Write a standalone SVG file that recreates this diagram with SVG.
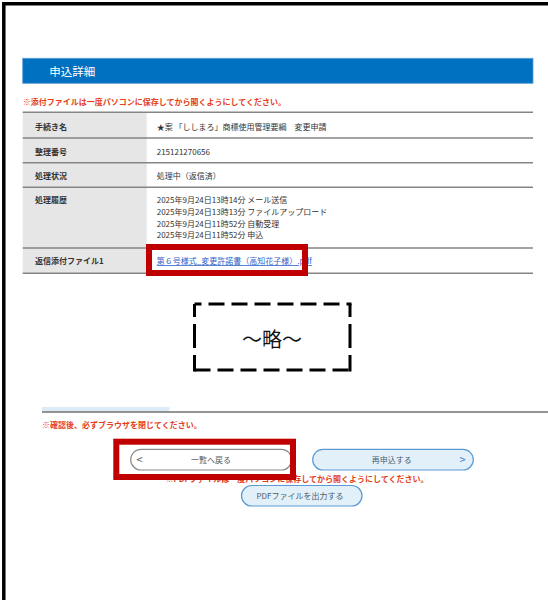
<svg xmlns="http://www.w3.org/2000/svg" width="548" height="600" viewBox="0 0 548 600">
<style>
text{font-family:"Noto Sans CJK JP","Noto Sans",sans-serif}
.lbl{font-size:8px;font-weight:bold;fill:#333}
.val{font-size:8px;fill:#333}
.note{font-size:8px;font-weight:bold;fill:#e4411b}
.sep{stroke:#858585;stroke-width:1.5}
.hl{fill:none;stroke:#c00000;stroke-width:6}
.dash{fill:none;stroke:#000;stroke-width:3}
.btn{font-size:8px;text-anchor:middle}
</style>
<rect width="548" height="600" fill="#fff"/>
<g id="frame"><path d="M3.8,600 V3.8 H548" fill="none" stroke="#000" stroke-width="3.5"/></g>
<g id="header">
<rect x="22.7" y="58.3" width="510.3" height="25" fill="#0070c0" stroke="#5c9fd8" stroke-width="0.8"/>
<text x="49.3" y="75.6" font-size="11.5" fill="#fff">申込詳細</text>
</g>
<g id="note-attach"><text class="note" x="22.7" y="105.3">※添付ファイルは一度パソコンに保存してから開くようにしてください。</text></g>
<g id="table">
<rect x="22.7" y="112.3" width="124" height="161" fill="#e6e6e6"/>
<g id="row-name"><text class="lbl" x="35" y="130.3">手続き名</text><text class="val" x="156.7" y="130.3">★案 「ししまろ」商標使用管理要綱　変更申請</text></g>
<g id="row-number"><text class="lbl" x="35" y="155">整理番号</text><text class="val" x="156.7" y="155">215121270656</text></g>
<g id="row-status"><text class="lbl" x="35" y="178.7">処理状況</text><text class="val" x="156.7" y="178.7">処理中（返信済）</text></g>
<g id="row-history"><text class="lbl" x="35" y="203">処理履歴</text>
<text class="val" x="156.7" y="203">2025年9月24日13時14分 メール送信</text>
<text class="val" x="156.7" y="214.8">2025年9月24日13時13分 ファイルアップロード</text>
<text class="val" x="156.7" y="226.6">2025年9月24日11時52分 自動受理</text>
<text class="val" x="156.7" y="238.4">2025年9月24日11時52分 申込</text></g>
<g id="row-file"><text class="lbl" x="35" y="264">返信添付ファイル1</text>
<text x="156.7" y="264" font-size="8" fill="#2f62c8" text-decoration="underline">第６号様式_変更許諾書（高知花子様）.pdf</text></g>
<g id="table-lines">
<line class="sep" x1="22.7" y1="112.3" x2="533" y2="112.3"/>
<line class="sep" x1="22.7" y1="138" x2="533" y2="138"/>
<line class="sep" x1="22.7" y1="162.7" x2="533" y2="162.7"/>
<line class="sep" x1="22.7" y1="187.3" x2="533" y2="187.3"/>
<line class="sep" x1="22.7" y1="248" x2="533" y2="248"/>
<line class="sep" x1="22.7" y1="273.3" x2="533" y2="273.3"/>
</g>
</g>
<g id="highlight-file"><rect class="hl" x="149" y="247" width="156" height="26"/></g>
<g id="omitted">
<path class="dash" d="M194.5,304 H351.5" stroke-dasharray="16 7" stroke-dashoffset="9"/>
<path class="dash" d="M194.5,370 H351.5" stroke-dasharray="16 7" stroke-dashoffset="0"/>
<path class="dash" d="M194.5,304 V371.5" stroke-dasharray="13 7 24 7 17"/>
<path class="dash" d="M350,304 V371.5" stroke-dasharray="13 7 24 7 17"/>
<text x="272" y="347" font-size="20" text-anchor="middle" fill="#111">～略～</text>
</g>
<g id="footer">
<rect x="42" y="407" width="127.5" height="4.5" fill="#dcebf7"/>
<line x1="42" y1="411.9" x2="548" y2="411.9" stroke="#707070" stroke-width="1.5"/>
<text class="note" x="42" y="428">※確認後、必ずブラウザを閉じてください。</text>
</g>
<g id="note-pdf"><text class="note" x="428.5" y="482" text-anchor="end">※PDFファイルは一度パソコンに保存してから開くようにしてください。</text></g>
<g id="btn-back">
<rect x="130.7" y="449.3" width="161" height="20.7" rx="10.35" fill="#fff" stroke="#8c8c8c" stroke-width="1.2"/>
<text x="136.5" y="464" font-size="11" fill="#555">&lt;</text>
<text class="btn" x="211" y="462.5" fill="#555">一覧へ戻る</text>
</g>
<g id="btn-reapply">
<rect x="312.7" y="449.3" width="160.6" height="20.7" rx="10.35" fill="#e2f0fa" stroke="#5b9bd5" stroke-width="1.2"/>
<text class="btn" x="391.7" y="462.5" fill="#4d5b6a">再申込する</text>
<text x="459.5" y="464" font-size="11" fill="#3b7dc4">&gt;</text>
</g>
<g id="btn-pdf">
<rect x="241.5" y="485.5" width="120.5" height="20.5" rx="10.25" fill="#e2f0fa" stroke="#5b9bd5" stroke-width="1.2"/>
<text class="btn" x="300" y="499" fill="#4d5b6a">PDFファイルを出力する</text>
</g>
<g id="highlight-back"><rect class="hl" x="116.3" y="441.7" width="176.7" height="35.3"/></g>
</svg>
